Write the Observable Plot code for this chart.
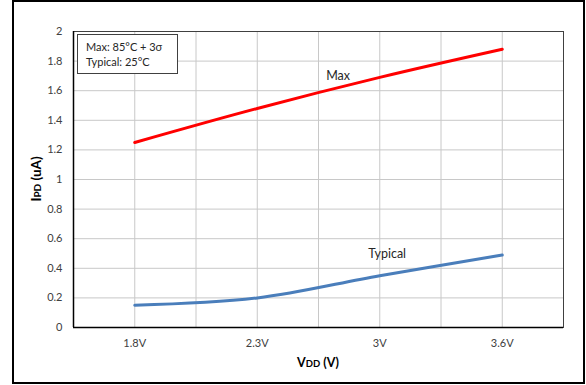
<!DOCTYPE html>
<html><head><meta charset="utf-8">
<script src="https://cdn.jsdelivr.net/npm/d3@7"></script>
<script src="https://cdn.jsdelivr.net/npm/@observablehq/plot@0.6"></script>
<style>html,body{margin:0;padding:0;background:#fff}</style>
</head><body><div id="chart"></div>
<script>
const categories = ["1.8V", "2.3V", "3V", "3.6V"];
const maxValues = [1.25, 1.48, 1.69, 1.88];
const typicalValues = [0.15, 0.20, 0.35, 0.49];
const yTicks = [0, 0.2, 0.4, 0.6, 0.8, 1, 1.2, 1.4, 1.6, 1.8, 2];
const legendLines = ["Max: 85°C + 3σ", "Typical: 25°C"];

const catIdx = categories.map((c, i) => i);
const xGrid = d3.range(-0.5, categories.length, 0.5);
const maxRows = categories.map((c, i) => ({i, v: maxValues[i]}));
const typRows = categories.map((c, i) => ({i, v: typicalValues[i]}));

const chart = Plot.plot({
  width: 586, height: 385,
  marginLeft: 73, marginRight: 23, marginTop: 31, marginBottom: 58,
  style: {fontFamily: "Lato, sans-serif", background: "#fff", overflow: "visible"},
  x: {domain: [-0.5, categories.length - 0.5]},
  y: {domain: [0, 2]},
  marks: [
    Plot.gridY(yTicks, {stroke: "#c8c8c8", strokeOpacity: 1}),
    Plot.gridX(xGrid, {stroke: "#c8c8c8", strokeOpacity: 1}),
    Plot.frame({stroke: "#404040"}),
    Plot.ruleY([0], {stroke: "#000", strokeWidth: 1.5}),
    Plot.ruleX([-0.5], {stroke: "#000", strokeWidth: 1.5}),
    Plot.axisY(yTicks, {tickSize: 0, tickPadding: 11, fontSize: 11, color: "#404040", label: null,
      tickFormat: d => String(+d.toFixed(1))}),
    Plot.axisX(catIdx, {tickSize: 0, tickPadding: 12, fontSize: 11, color: "#404040", label: null,
      tickFormat: i => categories[i]}),
    Plot.line(maxRows, {x: "i", y: "v", stroke: "#ff0000", strokeWidth: 3, curve: "catmull-rom"}),
    Plot.line(typRows, {x: "i", y: "v", stroke: "#4a7ebb", strokeWidth: 3, curve: "catmull-rom"}),
    Plot.text(["Max"], {x: 1.66, y: 1.70, text: d => d, fontSize: 12.5, fill: "#262626"}),
    Plot.text(["Typical"], {x: 2.06, y: 0.50, text: d => d, fontSize: 12.5, fill: "#262626"})
  ]
});

const svg = d3.select(chart);
// outer border
svg.append("rect").attr("x", 13).attr("y", 1).attr("width", 571).attr("height", 382)
  .attr("fill", "none").attr("stroke", "#000").attr("stroke-width", 2);
// legend box
const lg = svg.append("g").attr("text-anchor", "start");
lg.append("rect").attr("x", 77.5).attr("y", 34.5).attr("width", 100).attr("height", 39)
  .attr("fill", "#fff").attr("stroke", "#404040").attr("stroke-width", 1);
legendLines.forEach((t, k) => {
  lg.append("text").attr("x", 86).attr("y", 51 + k * 14.5).attr("font-size", 11)
    .attr("text-anchor", "start").attr("fill", "#262626").text(t);
});
// y title
const yt = svg.append("text").attr("transform", "translate(41,179) rotate(-90)")
  .attr("text-anchor", "middle").attr("font-weight", "bold").attr("font-size", 13.5).attr("fill", "#000");
yt.append("tspan").text("I");
yt.append("tspan").attr("font-size", 10).text("PD");
yt.append("tspan").text(" (uA)");
// x title
const xt = svg.append("text").attr("x", 318).attr("y", 367)
  .attr("text-anchor", "middle").attr("font-weight", "bold").attr("font-size", 12.5).attr("fill", "#000");
xt.append("tspan").text("V");
xt.append("tspan").attr("font-size", 9.5).text("DD");
xt.append("tspan").text(" (V)");

document.getElementById("chart").appendChild(chart);
</script></body></html>
